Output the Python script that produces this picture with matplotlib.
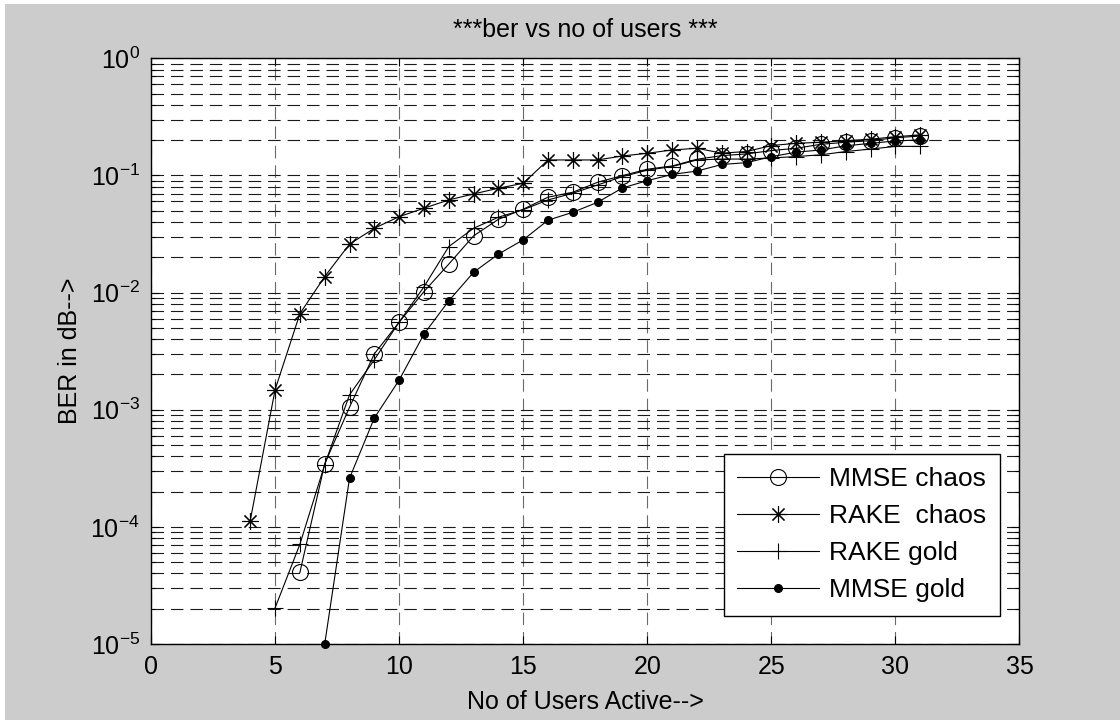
import numpy as np
import matplotlib
matplotlib.use("Agg")
import matplotlib.pyplot as plt
from matplotlib.patches import Rectangle
from matplotlib.ticker import LogLocator, NullFormatter

# BER per number of active users
users_mmse_chaos = list(range(6, 32))
mmse_chaos = [4.08e-5, 3.45e-4, 1.05e-3, 3.0e-3, 5.58e-3, 1.02e-2, 1.75e-2, 3.05e-2,
              4.22e-2, 5.15e-2, 6.52e-2, 7.19e-2, 8.75e-2, 9.97e-2, 0.113, 0.1205,
              0.1374, 0.1476, 0.1526, 0.163, 0.1706, 0.1845, 0.192, 0.198, 0.210, 0.217]

users_rake_chaos = list(range(4, 32))
rake_chaos = [1.13e-4, 1.48e-3, 6.6e-3, 1.37e-2, 2.59e-2, 3.54e-2, 4.45e-2, 5.25e-2,
              6.18e-2, 6.95e-2, 7.78e-2, 8.57e-2, 0.1356, 0.1356, 0.1356, 0.1467,
              0.1546, 0.165, 0.1706, 0.155, 0.160, 0.180, 0.188, 0.192, 0.198, 0.204,
              0.214, 0.222]

users_rake_gold = list(range(5, 32))
rake_gold = [2.03e-5, 7.1e-5, 3.4e-4, 1.34e-3, 2.67e-3, 5.6e-3, 1.12e-2, 2.47e-2,
             3.54e-2, 4.4e-2, 5.1e-2, 6.18e-2, 7.05e-2, 8.3e-2, 9.77e-2, 0.111,
             0.119, 0.1356, 0.138, 0.138, 0.141, 0.145, 0.150, 0.160, 0.168, 0.177, 0.177]

users_mmse_gold = list(range(7, 32))
mmse_gold = [1.0e-5, 2.6e-4, 8.5e-4, 1.79e-3, 4.42e-3, 8.5e-3, 1.49e-2, 2.13e-2,
             2.82e-2, 4.15e-2, 4.85e-2, 5.9e-2, 7.82e-2, 9.03e-2, 0.102, 0.109,
             0.124, 0.1286, 0.1446, 0.158, 0.165, 0.179, 0.188, 0.197, 0.201]

x_ticks = [0, 5, 10, 15, 20, 25, 30, 35]


def draw():
    plt.rcParams['font.family'] = ['Liberation Sans', 'DejaVu Sans']
    plt.rcParams['mathtext.fontset'] = 'custom'
    plt.rcParams['mathtext.rm'] = 'Liberation Sans'
    plt.rcParams['mathtext.it'] = 'Liberation Sans:italic'
    plt.rcParams['mathtext.bf'] = 'Liberation Sans:bold'
    plt.rcParams['mathtext.default'] = 'regular'
    plt.rcParams['lines.scale_dashes'] = False

    W, H = 1120, 722
    fig = plt.figure(figsize=(W / 100.0, H / 100.0), dpi=100, facecolor='white')
    # grey figure panel with a thin light border
    fig.patches.append(Rectangle((5.0 / W, 2.0 / H), 1 - 5.0 / W, 1 - 6.0 / H,
                                 transform=fig.transFigure, facecolor='#cccccc',
                                 edgecolor='none', zorder=-10))

    left, right, top, bottom = 151, 1019.5, 58.3, 644
    ax = fig.add_axes([left / W, 1 - bottom / H, (right - left) / W, (bottom - top) / H])
    ax.set_facecolor('white')

    lw = 0.8
    ax.plot(users_mmse_chaos, mmse_chaos, '-', color='black', lw=lw, marker='o',
            ms=11.5, mfc='none', mec='black', mew=0.8, label='MMSE chaos')
    ax.plot(users_rake_chaos, rake_chaos, '-', color='black', lw=lw, marker=(8, 2, 0),
            ms=12, mec='black', mew=0.8, label='RAKE  chaos')
    ax.plot(users_rake_gold, rake_gold, '-', color='black', lw=lw, marker='+',
            ms=12, mec='black', mew=0.8, label='RAKE gold')
    ax.plot(users_mmse_gold, mmse_gold, '-', color='black', lw=lw, marker='o',
            ms=5.5, mfc='black', mec='black', label='MMSE gold', clip_on=False)

    ax.set_xlim(0, 35)
    ax.set_yscale('log')
    ax.set_ylim(1e-5, 1)
    ax.set_xticks(x_ticks)
    ax.yaxis.set_major_locator(LogLocator(base=10, numticks=10))
    ax.yaxis.set_minor_locator(LogLocator(base=10, subs=np.arange(2, 10), numticks=10))
    ax.yaxis.set_minor_formatter(NullFormatter())

    # dashed grid, horizontal lines on every decade and sub-decade
    ax.grid(True, axis='x', which='major', color='#6a6a6a', lw=0.8, linestyle=(0, (9, 5)))
    ax.grid(True, axis='y', which='both', color='#1a1a1a', lw=0.8, linestyle=(0, (9, 5)))
    ax.set_axisbelow(True)

    ax.tick_params(axis='both', which='both', direction='in', top=True, right=True,
                   labelsize=18, width=0.8)
    ax.tick_params(axis='both', which='major', length=6, pad=8)
    ax.tick_params(axis='y', which='minor', length=3)
    for sp in ax.spines.values():
        sp.set_linewidth(1.0)

    ax.set_title('***ber vs no of users ***', fontsize=18, pad=15)
    ax.set_xlabel('No of Users Active-->', fontsize=18)
    ax.set_ylabel('BER in dB-->', fontsize=18)
    ax.xaxis.set_label_coords(0.5, -0.079)
    ax.yaxis.set_label_coords(-0.08, 0.5)

    leg = ax.legend(loc='lower right', bbox_to_anchor=(0.977, 0.0486), borderaxespad=0,
                    fontsize=19, fancybox=False, framealpha=1, edgecolor='black',
                    handlelength=3.1, handletextpad=0.4, labelspacing=0.5,
                    borderpad=0.5)
    leg.get_frame().set_linewidth(1.0)

    fig.savefig('out.png', dpi=100, facecolor=fig.get_facecolor())


if __name__ == "__main__":
    draw()
